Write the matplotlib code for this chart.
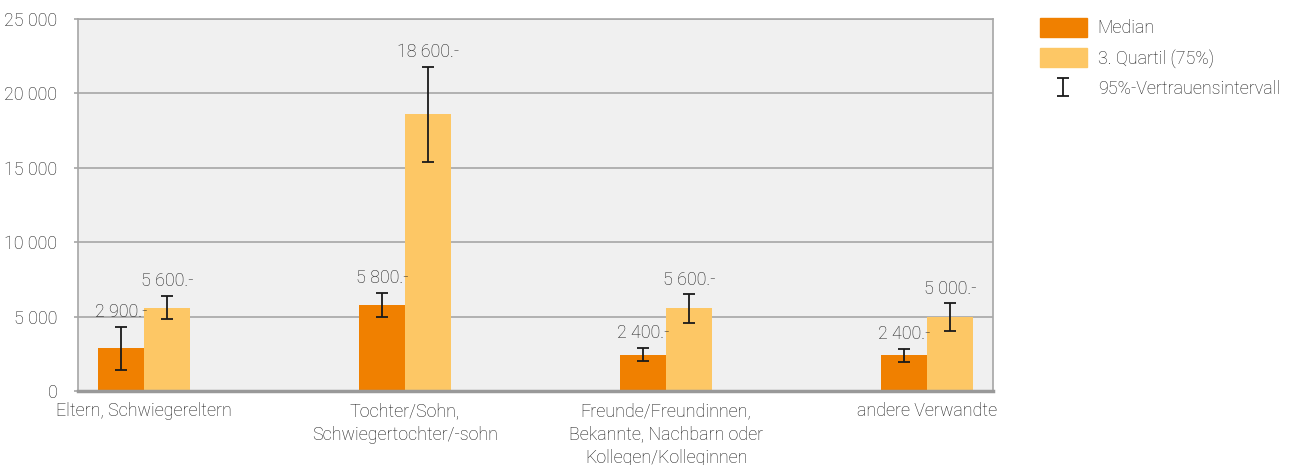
import numpy as np
import matplotlib
matplotlib.use("Agg")
import matplotlib.pyplot as plt
from matplotlib.patches import Patch
from matplotlib.lines import Line2D
from matplotlib.path import Path
from matplotlib.ticker import FuncFormatter

plt.rcParams["font.family"] = ["Roboto", "DejaVu Sans"]
plt.rcParams["font.weight"] = "light"

categories = ["Eltern, Schwiegereltern",
              "Tochter/Sohn,\nSchwiegertochter/-sohn",
              "Freunde/Freundinnen,\nBekannte, Nachbarn oder\nKollegen/Kolleginnen",
              "andere Verwandte"]
median = [2900, 5800, 2400, 2400]
quartil = [5600, 18600, 5600, 5000]
median_ci_lo = [1400, 5000, 2000, 1950]
median_ci_hi = [4300, 6600, 2900, 2850]
quartil_ci_lo = [4850, 15400, 4600, 4000]
quartil_ci_hi = [6400, 21800, 6500, 5900]

c_med = "#f08000"
c_q3 = "#fdc765"
txt = "#1a1a1a"
fs = 12.9

fig = plt.figure(figsize=(12.94, 4.65), dpi=100)
ax = fig.add_axes([78 / 1294, 1 - 391 / 465, 915 / 1294, 372 / 465])
ax.set_facecolor("#f0f0f0")

x = np.arange(len(categories))
w = 0.176
xm = x - w / 2
xq = x + w / 2
ax.bar(xm, median, w, color=c_med, zorder=2)
ax.bar(xq, quartil, w, color=c_q3, zorder=2)

med = np.array(median)
q3 = np.array(quartil)
eb_kw = dict(fmt="none", ecolor="#1a1a1a", elinewidth=1.3, capsize=4.5, capthick=1.3, zorder=3)
ax.errorbar(xm, med, yerr=[med - np.array(median_ci_lo), np.array(median_ci_hi) - med], **eb_kw)
ax.errorbar(xq, q3, yerr=[q3 - np.array(quartil_ci_lo), np.array(quartil_ci_hi) - q3], **eb_kw)

def fmt(v):
    return f"{v:,}".replace(",", " ") + ".-"

for xi, v, top in zip(xm, median, median_ci_hi):
    ax.annotate(fmt(v), (xi, top), xytext=(0, 4), textcoords="offset points",
                ha="center", va="bottom", fontsize=fs, color=txt, zorder=4)
for xi, v, top in zip(xq, quartil, quartil_ci_hi):
    ax.annotate(fmt(v), (xi, top), xytext=(0, 4), textcoords="offset points",
                ha="center", va="bottom", fontsize=fs, color=txt, zorder=4)

ax.set_xlim(-0.253, 3.253)
ax.set_ylim(0, 25000)
ax.set_yticks(np.arange(0, 25001, 5000))
ax.yaxis.set_major_formatter(FuncFormatter(lambda v, p: f"{int(v):,}".replace(",", " ")))
ax.grid(axis="y", color="#a6a6a6", lw=1.2, zorder=1)
ax.set_axisbelow(True)
ax.set_xticks(x)
ax.set_xticklabels(categories, fontsize=fs, color=txt, linespacing=1.4)
ax.tick_params(axis="x", length=0, pad=8, labelsize=fs, colors=txt)
ax.tick_params(axis="y", length=3, width=1.2, color="#a6a6a6", pad=12, labelsize=fs, labelcolor=txt)
for s in ["left", "right", "top"]:
    ax.spines[s].set_color("#a6a6a6")
    ax.spines[s].set_linewidth(1.2)
ax.spines["bottom"].set_color("#999999")
ax.spines["bottom"].set_linewidth(2.5)

ibeam = Path([(-0.7, -1), (0.7, -1), (0, -1), (0, 1), (-0.7, 1), (0.7, 1)],
             [Path.MOVETO, Path.LINETO, Path.MOVETO, Path.LINETO, Path.MOVETO, Path.LINETO])
ci_handle = Line2D([], [], ls="none", marker=ibeam, markersize=13, markeredgewidth=1.3,
                   markeredgecolor="#1a1a1a", markerfacecolor="none")
leg = fig.legend([Patch(color=c_med), Patch(color=c_q3), ci_handle],
                 ["Median", "3. Quartil (75%)", "95%-Vertrauensintervall"],
                 loc="upper left", bbox_to_anchor=(1040 / 1294, 1 - 18 / 465),
                 frameon=False, fontsize=fs, handlelength=2.6, handleheight=1.25,
                 labelspacing=0.6, handletextpad=0.62, borderpad=0, borderaxespad=0)
for t in leg.get_texts():
    t.set_color(txt)

fig.savefig("out.png", dpi=100)
